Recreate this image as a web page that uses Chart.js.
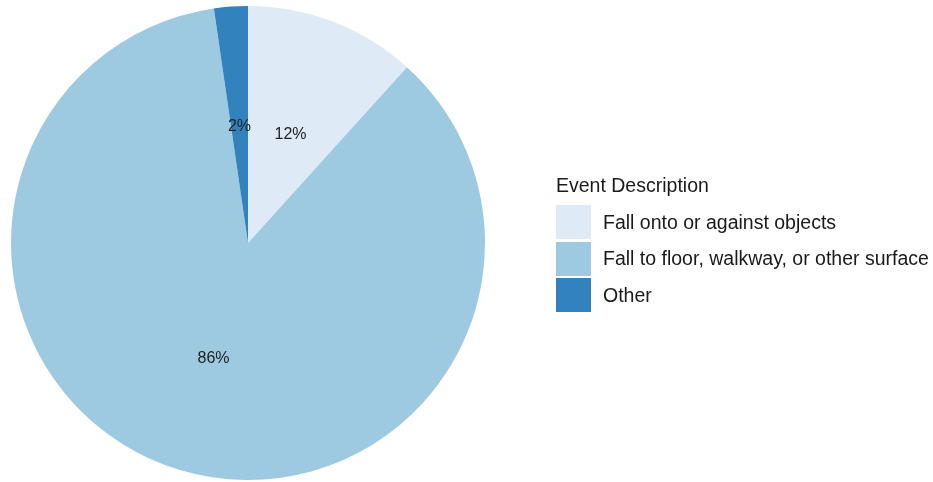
<!DOCTYPE html>
<html>
<head>
<meta charset="utf-8">
<script src="https://cdn.jsdelivr.net/npm/chart.js@4"></script>
<style>
  body { margin: 0; background: #fff; }
  #wrap { position: relative; width: 933px; height: 482px; }
  #legend { position: absolute; left: 556px; top: 172px; font-family: "Liberation Sans", Arial, sans-serif; color: #1a1a1a; }
  #legend .title { font-size: 19.5px; height: 32px; line-height: 26px; white-space: nowrap; }
  #legend .item { display: flex; align-items: center; height: 36.6px; font-size: 19.5px; white-space: nowrap; }
  #legend .box { width: 35px; height: 34px; margin-right: 12px; }
</style>
</head>
<body>
<div id="wrap">
  <canvas id="pieChart" width="933" height="482"></canvas>
  <div id="legend"></div>
</div>
<script>
// categories and shares (percent)
const categories = ['Fall onto or against objects', 'Fall to floor, walkway, or other surface', 'Other'];
const shares = [11.7, 86.0, 2.3];
const colors = ['#deebf7', '#9ecae1', '#3182bd'];
const legendTitle = 'Event Description';

// legend (html)
const legend = document.getElementById('legend');
let html = '<div class="title">' + legendTitle + '</div>';
categories.forEach(function (c, i) {
    html += '<div class="item"><div class="box" style="background:' + colors[i] + '"></div>' + c + '</div>';
});
legend.innerHTML = html;

// percent labels at half radius
const sliceLabels = {
    id: 'sliceLabels',
    afterDatasetsDraw(chart) {
        const ctx = chart.ctx;
        const meta = chart.getDatasetMeta(0);
        ctx.save();
        ctx.font = '16px "Liberation Sans", Arial, sans-serif';
        ctx.fillStyle = '#222';
        ctx.textAlign = 'center';
        ctx.textBaseline = 'middle';
        meta.data.forEach(function (arc, i) {
            const p = arc.tooltipPosition();
            ctx.fillText(Math.round(shares[i]) + '%', p.x, p.y + 2);
        });
        ctx.restore();
    }
};

new Chart(document.getElementById('pieChart').getContext('2d'), {
    type: 'pie',
    data: {
        labels: categories,
        datasets: [{
            data: shares,
            backgroundColor: colors,
            borderWidth: 0
        }]
    },
    options: {
        responsive: false,
        animation: false,
        layout: { padding: { left: 11, right: 448, top: 6, bottom: 2 } },
        plugins: {
            legend: { display: false },
            tooltip: { enabled: false }
        }
    },
    plugins: [sliceLabels]
});
</script>
</body>
</html>
